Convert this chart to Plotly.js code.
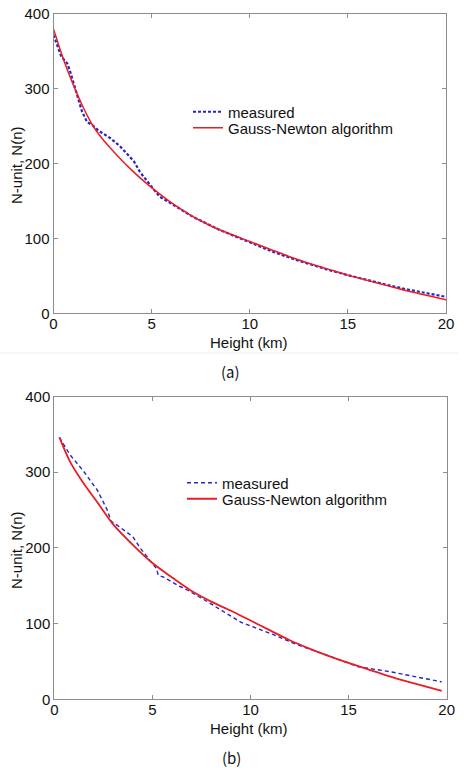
<!DOCTYPE html>
<html>
<head>
<meta charset="utf-8">
<script src="https://cdn.plot.ly/plotly-3.0.1.min.js"></script>
<style>
  html, body { margin: 0; padding: 0; background: #ffffff; }
  #chart { width: 464px; height: 770px; }
</style>
</head>
<body>
<div id="chart"></div>
<script>
// Panel (a): refractivity profile, measured vs. Gauss-Newton fit
const heightMeasuredA = [0, 0.4, 0.7, 0.85, 1.2, 1.45, 1.7, 2.0, 2.3, 2.9, 3.4, 4.1, 4.4, 4.9, 5.4, 6.1, 7.1, 8.5, 9.5, 11.2, 12.4, 14, 15, 16, 17, 18, 19, 20];
const nMeasuredA      = [372, 343, 334, 323, 292, 270, 256, 251, 244, 234, 223, 203, 189, 172, 156, 145, 129, 111, 100, 82, 71, 58, 51, 44, 38, 32, 27, 22];
const heightFitA = [0, 0.5, 1, 1.5, 2, 2.5, 3, 3.5, 4, 4.5, 5, 6, 7, 8, 9, 10, 11, 12, 13, 14, 15, 16, 17, 18, 19, 20];
const nFitA      = [380, 340, 306, 276, 251, 233, 218, 204, 191, 179, 168, 148, 131, 117, 106, 96, 86, 76, 67, 59, 51, 44, 37, 30, 24, 18];

// Panel (b)
const heightMeasuredB = [0.26, 0.8, 1.5, 2.2, 2.7, 2.9, 3.2, 4.0, 4.4, 4.8, 5.2, 5.3, 5.6, 6.4, 6.6, 7.8, 9.5, 11.2, 12.4, 13.5, 15, 15.5, 17.1, 18.5, 19.75];
const nMeasuredB      = [346, 323, 301, 276, 250, 235, 230, 215, 199, 186, 173, 164, 161, 149, 147, 129, 102, 85, 72, 62, 48, 43, 36.5, 29, 23];
const heightFitB = [0.26, 0.8, 1.5, 2.2, 3, 4, 5, 6, 7, 8, 9, 10, 11, 12, 13, 14, 15, 16, 17, 18, 19, 19.75];
const nFitB      = [346, 314, 285, 260, 231, 204, 180, 161, 143, 129, 117, 104, 91, 78, 67, 57, 48, 39.5, 31, 23.5, 16.5, 11];

const xTicks = [0, 5, 10, 15, 20];
const yTicks = [0, 100, 200, 300, 400];
const seriesNames = ['measured', 'Gauss-Newton algorithm'];
const panelLabels = ['(a)', '(b)'];

const W = 464, H = 770;
const px = v => v / W;
const py = v => 1 - v / H;

const BLUE = '#2424c8';
const RED = '#ea1c24';
const FONT = 'Arial, "Liberation Sans", sans-serif';

const traces = [
  { x: heightMeasuredA, y: nMeasuredA, name: seriesNames[0], xaxis: 'x', yaxis: 'y', mode: 'lines',
    line: { color: BLUE, width: 2.2, dash: '3px,2px' }, legend: 'legend2', showlegend: true },
  { x: heightFitA, y: nFitA, name: seriesNames[1], xaxis: 'x', yaxis: 'y', mode: 'lines',
    line: { color: RED, width: 1.5, shape: 'spline', smoothing: 0.8 }, legend: 'legend3', showlegend: true },
  { x: heightMeasuredB, y: nMeasuredB, name: seriesNames[0], xaxis: 'x2', yaxis: 'y2', mode: 'lines',
    line: { color: BLUE, width: 1.4, dash: '4px,3px' }, legend: 'legend4', showlegend: true },
  { x: heightFitB, y: nFitB, name: seriesNames[1], xaxis: 'x2', yaxis: 'y2', mode: 'lines',
    line: { color: RED, width: 1.8, shape: 'spline', smoothing: 0.8 }, legend: 'legend5', showlegend: true }
];

function xAxis(domain, anchor) {
  return {
    domain: domain, anchor: anchor, range: [0, 20], tickvals: xTicks,
    ticks: 'inside', ticklen: 4, tickcolor: '#8c8c8c', showline: true, linecolor: '#8c8c8c',
    linewidth: 1, mirror: 'ticks', showgrid: false, zeroline: false, ticklabelstandoff: -3,
    tickfont: { family: FONT, size: 15, color: '#111' }
  };
}
function yAxis(domain, anchor) {
  return {
    domain: domain, anchor: anchor, range: [0, 400], tickvals: yTicks,
    ticks: 'inside', ticklen: 4, tickcolor: '#8c8c8c', showline: true, linecolor: '#8c8c8c',
    linewidth: 1, mirror: 'ticks', showgrid: false, zeroline: false,
    tickfont: { family: FONT, size: 15, color: '#111' }
  };
}
function legendAt(x, y) {
  return {
    x: px(x), y: py(y), xanchor: 'left', yanchor: 'middle', bgcolor: 'rgba(0,0,0,0)',
    borderwidth: 0, itemwidth: 30, font: { family: FONT, size: 15, color: '#111' }
  };
}
function label(text, x, y, opts) {
  return Object.assign({
    text: text, xref: 'paper', yref: 'paper', x: px(x), y: py(y),
    xanchor: 'center', yanchor: 'middle', showarrow: false,
    font: { family: FONT, size: 15, color: '#111' }
  }, opts || {});
}

const layout = {
  width: W, height: H,
  margin: { l: 0, r: 0, t: 0, b: 0 },
  paper_bgcolor: '#ffffff', plot_bgcolor: '#ffffff',
  showlegend: true,
  xaxis: xAxis([px(53.5), px(446)], 'y'),
  yaxis: yAxis([py(313.3), py(14)], 'x'),
  xaxis2: xAxis([px(54.3), px(446.7)], 'y2'),
  yaxis2: yAxis([py(699.3), py(396.5)], 'x2'),
  legend2: legendAt(188, 112),
  legend3: legendAt(188, 128),
  legend4: legendAt(182, 483),
  legend5: legendAt(182, 499),
  annotations: [
    label('Height (km)', 249, 342),
    label('N-unit, N(n)', 16, 165, { textangle: -90 }),
    label(panelLabels[0], 230, 372, { font: { family: 'Noto Sans CJK KR, sans-serif', size: 15, color: '#111' } }),
    label('Height (km)', 249, 728),
    label('N-unit, N(n)', 16, 550, { textangle: -90 }),
    label(panelLabels[1], 231, 757, { font: { family: 'Noto Sans CJK KR, sans-serif', size: 15, color: '#111' } })
  ],
  shapes: [
    { type: 'line', xref: 'paper', yref: 'paper', x0: 0, x1: px(458), y0: py(353), y1: py(353),
      line: { color: '#ececec', width: 1 } }
  ]
};

Plotly.newPlot('chart', traces, layout, { displayModeBar: false, staticPlot: true });
</script>
</body>
</html>
